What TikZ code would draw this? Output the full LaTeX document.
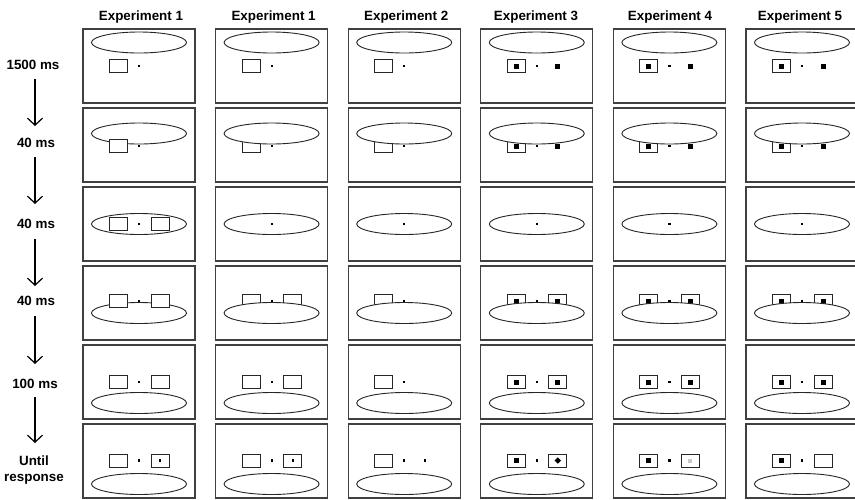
\documentclass[tikz,border=0pt]{standalone}
\usepackage{fontspec}
\setmainfont{Liberation Sans}
\usetikzlibrary{arrows.meta}
\tikzset{
  frame/.style={draw=black!75, line width=1.3pt, fill=white},
  ell/.style={draw=black!85, line width=0.9pt, fill=white},
  sq/.style={draw=black!85, line width=0.9pt, fill=white},
  blk/.style={fill=black},
  hdr/.style={font=\fontsize{13.4}{15}\selectfont\bfseries, inner sep=0pt},
  lbl/.style={font=\fontsize{13.4}{16}\selectfont\bfseries, inner sep=0pt, align=center},
  arr/.style={draw=black, line width=1.2pt, -{Straight Barb[length=7pt,width=15pt,line width=1.2pt]}}
}
\newcommand\cellat[2]{%
  \pgfmathsetmacro\cx{139+132.6*#1}\pgfmathsetmacro\cy{66+79*#2}%
  \draw[frame] (\cx-56,\cy-37) rectangle (\cx+56,\cy+37);}
\newcommand\ellat[1]{\draw[ell] (\cx,\cy+#1) ellipse [x radius=47.5, y radius=10.5];}
\newcommand\lsqat[1]{\draw[sq] (\cx-29.5,\cy+#1-6.5) rectangle ++(18,13);}
\newcommand\rsqat[1]{\draw[sq] (\cx+12,\cy+#1-6.5) rectangle ++(18,13);}
\newcommand\dotat[1]{\fill[blk] (\cx-1.1,\cy+#1-1.1) rectangle ++(2.2,2.2);}
\newcommand\rdotat[1]{\fill[blk] (\cx+19.9,\cy+#1-1.1) rectangle ++(2.2,2.2);}
\newcommand\linat[1]{\fill[blk] (\cx-23,\cy+#1-2.5) rectangle ++(5,5);}
\newcommand\rinat[1]{\fill[blk] (\cx+18.5,\cy+#1-2.5) rectangle ++(5,5);}
\newcommand\rdiamat[1]{\fill[blk] (\cx+21,\cy+#1-3.2) -- ++(3.2,3.2) -- ++(-3.2,3.2) -- ++(-3.2,-3.2) -- cycle;}
\newcommand\rgrayat[1]{\fill[black!22] (\cx+19,\cy+#1-2) rectangle ++(4,4);}
\begin{document}
\begin{tikzpicture}[x=1pt,y=-1pt]
\useasboundingbox (0,0) rectangle (855,499);
\clip (0,0) rectangle (855,499);
\fill[white] (0,0) rectangle (855,499);
% headers
\node[hdr] (h1) at (141,17) {Experiment 1};
\node[hdr] (h2) at (273.6,17) {Experiment 1};
\node[hdr] (h3) at (406.2,17) {Experiment 2};
\node[hdr] (h4) at (536,17) {Experiment 3};
\node[hdr] (h5) at (670,17) {Experiment 4};
\node[hdr] (h6) at (800,17) {Experiment 5};
% time labels
\node[lbl] (t1) at (33,64.5) {1500 ms};
\node[lbl] (t2) at (36,143) {40 ms};
\node[lbl] (t3) at (36,224) {40 ms};
\node[lbl] (t4) at (36,301) {40 ms};
\node[lbl] (t5) at (35,384) {100 ms};
\node[lbl, anchor=north] (t6) at (34,456) {Until\\response};
\draw[arr] ([shift={(2,14)}]t1.center) -- ([shift={(-1,-17)}]t2.center);
\draw[arr] ([shift={(-1,14)}]t2.center) -- ([shift={(-1,-20)}]t3.center);
\draw[arr] ([shift={(-1,15)}]t3.center) -- ([shift={(-1,-15)}]t4.center);
\draw[arr] ([shift={(-1,15)}]t4.center) -- ([shift={(0,-20)}]t5.center);
\draw[arr] ([shift={(0,13)}]t5.center) -- ([shift={(1,-13)}]t6.north);
% row 1
\foreach \c in {0,1,2}{\cellat{\c}{0}\ellat{-23.5}\lsqat{0}\dotat{0}}
\foreach \c in {3,4,5}{\cellat{\c}{0}\ellat{-23.5}\lsqat{0}\linat{0}\dotat{0}\rinat{0}}
% row 2
\cellat{0}{1}\ellat{-11.5}\lsqat{1}\dotat{1}
\foreach \c in {1,2}{\cellat{\c}{1}\lsqat{1}\dotat{1}\ellat{-11.5}}
\foreach \c in {3,4,5}{\cellat{\c}{1}\lsqat{1}\linat{1}\dotat{1}\rinat{1}\ellat{-11.5}}
% row 3
\cellat{0}{2}\ellat{0}\lsqat{0}\rsqat{0}\dotat{0}
\foreach \c in {1,...,5}{\cellat{\c}{2}\ellat{0}\dotat{0}}
% row 4
\cellat{0}{3}\ellat{10}\lsqat{-2}\rsqat{-2}\dotat{-2}
\cellat{1}{3}\lsqat{-2}\rsqat{-2}\dotat{-2}\ellat{10}
\cellat{2}{3}\lsqat{-2}\dotat{-2}\ellat{10}
\foreach \c in {3,4,5}{\cellat{\c}{3}\lsqat{-2}\rsqat{-2}\linat{-2}\rinat{-2}\dotat{-2}\ellat{10}}
% row 5
\foreach \c in {0,1}{\cellat{\c}{4}\lsqat{0}\rsqat{0}\dotat{0}\ellat{21}}
\cellat{2}{4}\lsqat{0}\dotat{0}\ellat{21}
\foreach \c in {3,4,5}{\cellat{\c}{4}\lsqat{0}\rsqat{0}\linat{0}\rinat{0}\dotat{0}\ellat{21}}
% row 6
\foreach \c in {0,1}{\cellat{\c}{5}\lsqat{-0.5}\rsqat{-0.5}\dotat{-0.5}\rdotat{-0.5}\ellat{23}}
\cellat{2}{5}\lsqat{-0.5}\dotat{-0.5}\rdotat{-0.5}\ellat{23}
\cellat{3}{5}\lsqat{-0.5}\linat{-0.5}\rsqat{-0.5}\rdiamat{-0.5}\dotat{-0.5}\ellat{23}
\cellat{4}{5}\lsqat{-0.5}\linat{-0.5}\rsqat{-0.5}\rgrayat{-0.5}\dotat{-0.5}\ellat{23}
\cellat{5}{5}\lsqat{-0.5}\linat{-0.5}\rsqat{-0.5}\dotat{-0.5}\ellat{23}
\end{tikzpicture}
\end{document}
